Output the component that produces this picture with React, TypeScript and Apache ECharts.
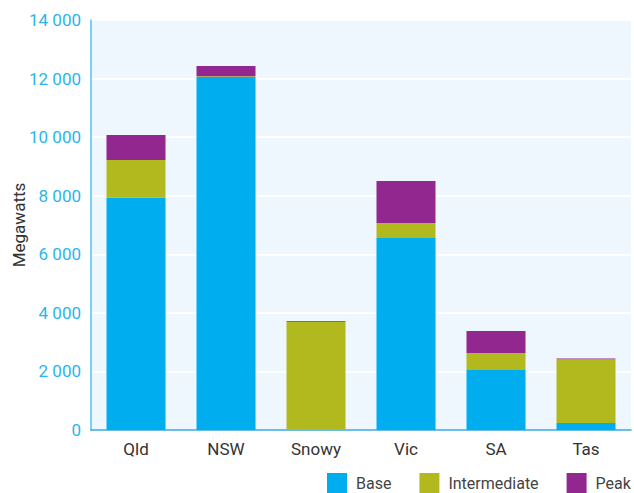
import React, { useEffect, useRef } from "react";
import * as echarts from "echarts";

const regions = ["Qld", "NSW", "Snowy", "Vic", "SA", "Tas"];
const baseMW = [7930, 12050, 0, 6560, 2050, 240];
const intermediateMW = [1290, 30, 3700, 510, 580, 2180];
const peakMW = [850, 350, 20, 1430, 750, 20];
const yTicks = { min: 0, max: 14000, interval: 2000 };

const fmt = (v: number) => {
  const s = String(Math.round(v));
  return s.length > 3 ? s.slice(0, s.length - 3) + " " + s.slice(-3) : s;
};

export default function App() {
  const ref = useRef<HTMLDivElement>(null);
  useEffect(() => {
    document.body.style.margin = "0";
    const chart = echarts.init(ref.current!, undefined, { renderer: "svg" });
    const font = "Roboto";
    chart.setOption({
      animation: false,
      grid: {
        left: 91,
        right: 3,
        top: 20,
        bottom: 63,
        containLabel: false,
        outerBoundsMode: "none",
        show: true,
        backgroundColor: "#edf7fd",
        borderWidth: 0,
      },
      legend: {
        left: 327,
        top: 473,
        itemWidth: 20,
        itemHeight: 20,
        itemGap: 28,
        icon: "rect",
        padding: 0,
        textStyle: { fontFamily: font, fontSize: 16, color: "#444", padding: [0, 0, 0, 4], lineHeight: 18 },
        data: ["Base", "Intermediate", "Peak"],
      },
      xAxis: {
        type: "category",
        data: regions,
        axisTick: { show: false },
        axisLine: { lineStyle: { color: "#3aa9dc", width: 1.5 } },
        axisLabel: { fontFamily: font, fontSize: 17, color: "#333", margin: 10 },
      },
      yAxis: {
        type: "value",
        min: yTicks.min,
        max: yTicks.max,
        interval: yTicks.interval,
        name: "Megawatts",
        nameLocation: "middle",
        nameGap: 64,
        nameMoveOverlap: false,
        nameTextStyle: { fontFamily: font, fontSize: 17, color: "#333" },
        axisLine: { show: true, lineStyle: { color: "#4fc3f0", width: 1.5 } },
        axisTick: { show: false },
        splitLine: { lineStyle: { color: "#ffffff", width: 2 } },
        axisLabel: {
          fontFamily: font,
          fontSize: 17,
          color: "#29b6ec",
          margin: 10,
          formatter: (v: number) => fmt(v),
        },
      },
      series: [
        { name: "Base", type: "bar", stack: "t", data: baseMW, barWidth: 59, itemStyle: { color: "#00aeef" } },
        { name: "Intermediate", type: "bar", stack: "t", data: intermediateMW, barWidth: 59, itemStyle: { color: "#b1b91f" } },
        { name: "Peak", type: "bar", stack: "t", data: peakMW, barWidth: 59, itemStyle: { color: "#92278f" } },
      ],
    });
    return () => chart.dispose();
  }, []);
  return <div ref={ref} style={{ width: 634, height: 493 }} />;
}
